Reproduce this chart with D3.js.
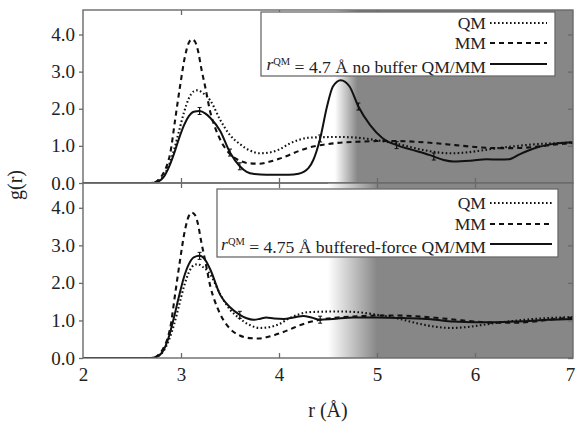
<!DOCTYPE html>
<html>
<head>
<meta charset="utf-8">
<script src="https://cdn.jsdelivr.net/npm/d3@7/dist/d3.min.js"></script>
<style>
  html, body { margin: 0; padding: 0; background: #fff; }
  svg { display: block; }
</style>
</head>
<body>
<svg id="chart" width="576" height="422"></svg>
<script>
// ---------- DATA ----------
const xTicks = [2, 3, 4, 5, 6, 7];
const yTicks = [0, 1, 2, 3, 4];

const mmR = [2.0, 2.65, 2.72, 2.76, 2.82, 2.86, 2.89, 2.94, 2.99, 3.04, 3.08, 3.11, 3.14, 3.17, 3.21, 3.25, 3.30, 3.35, 3.40, 3.50, 3.60, 3.70, 3.80, 3.90, 4.00, 4.10, 4.20, 4.30, 4.40, 4.50, 4.60, 4.80, 5.00, 5.20, 5.40, 5.60, 5.80, 6.00, 6.20, 6.40, 6.60, 6.80, 7.00];
const mmG = [0, 0, 0.0, 0.06, 0.26, 0.5, 0.8, 1.7, 2.6, 3.4, 3.78, 3.87, 3.82, 3.6, 3.05, 2.55, 1.9, 1.48, 1.17, 0.78, 0.6, 0.53, 0.52, 0.57, 0.65, 0.75, 0.86, 0.95, 1.01, 1.05, 1.08, 1.11, 1.13, 1.13, 1.11, 1.07, 1.02, 0.97, 0.94, 0.94, 0.97, 1.03, 1.08];

const qmR = [2.0, 2.68, 2.76, 2.82, 2.88, 2.93, 2.98, 3.03, 3.08, 3.13, 3.17, 3.22, 3.27, 3.30, 3.40, 3.50, 3.60, 3.70, 3.80, 3.90, 4.00, 4.10, 4.20, 4.30, 4.40, 4.60, 4.80, 5.00, 5.20, 5.40, 5.60, 5.75, 5.90, 6.05, 6.20, 6.40, 6.60, 6.80, 7.00];
const qmG = [0, 0, 0.04, 0.18, 0.5, 0.9, 1.4, 1.9, 2.28, 2.47, 2.5, 2.43, 2.32, 2.22, 1.70, 1.29, 1.05, 0.88, 0.80, 0.82, 0.90, 1.05, 1.16, 1.22, 1.23, 1.24, 1.22, 1.15, 1.06, 0.93, 0.83, 0.80, 0.82, 0.87, 0.93, 0.99, 1.04, 1.07, 1.09];

// r_QM = 4.7 A, no buffer
const nbR = [2.0, 2.7, 2.76, 2.82, 2.88, 2.93, 2.98, 3.03, 3.08, 3.13, 3.19, 3.25, 3.30, 3.40, 3.50, 3.60, 3.67, 3.75, 3.87, 4.00, 4.10, 4.20, 4.30, 4.35, 4.42, 4.49, 4.55, 4.63, 4.72, 4.81, 4.93, 5.06, 5.20, 5.35, 5.54, 5.68, 5.78, 5.95, 6.12, 6.25, 6.35, 6.46, 6.60, 6.73, 6.85, 7.00];
const nbG = [0, 0, 0.03, 0.15, 0.45, 0.8, 1.2, 1.55, 1.8, 1.92, 1.94, 1.87, 1.75, 1.4, 0.82, 0.45, 0.30, 0.24, 0.22, 0.22, 0.22, 0.25, 0.4, 0.62, 1.2, 2.06, 2.6, 2.77, 2.6, 2.06, 1.56, 1.2, 1.02, 0.9, 0.75, 0.62, 0.58, 0.6, 0.64, 0.63, 0.64, 0.78, 0.93, 1.02, 1.07, 1.1];

// r_QM = 4.75 A, buffered force
const bfR = [2.0, 2.7, 2.76, 2.82, 2.88, 2.93, 2.98, 3.03, 3.08, 3.13, 3.19, 3.25, 3.30, 3.40, 3.50, 3.60, 3.67, 3.74, 3.80, 3.87, 3.95, 4.05, 4.15, 4.25, 4.33, 4.42, 4.55, 4.76, 5.00, 5.30, 5.55, 5.78, 6.00, 6.12, 6.30, 6.50, 6.75, 7.00];
const bfG = [0, 0, 0.04, 0.2, 0.6, 1.1, 1.65, 2.15, 2.5, 2.68, 2.72, 2.6, 2.35, 1.68, 1.35, 1.15, 1.06, 1.02, 1.04, 1.08, 1.05, 1.04, 1.08, 1.12, 1.08, 1.02, 1.04, 1.08, 1.08, 1.06, 1.03, 0.97, 0.95, 0.95, 0.96, 0.98, 1.02, 1.04];

const nbErrR = [3.19, 3.5, 3.6, 4.42, 4.81, 5.2, 5.58];
const bfErrR = [3.19, 3.6, 4.42];

const panels = [
  { solidR: nbR, solidG: nbG, errR: nbErrR, shadeFrom: 4.57, shadeTo: 4.8,
    legendLabel: [" = 4.7 Å no buffer QM/MM"] },
  { solidR: bfR, solidG: bfG, errR: bfErrR, shadeFrom: 4.5, shadeTo: 5.0,
    legendLabel: [" = 4.75 Å buffered-force QM/MM"] }
];

// ---------- LAYOUT ----------
const FONT = '"Liberation Serif", "Times New Roman", Tinos, "DejaVu Serif", "Noto Serif", serif';
const svg = d3.select("#chart");
const L = 83, R = 573;
const panelBox = [{ top: 10, bottom: 183 }, { top: 183, bottom: 358 }];
const legendBox = [
  { x0: 261, x1: 555, y0: 12, y1: 76, rows: [23, 43, 64], textRight: 486, lx0: 490, lx1: 547 },
  { x0: 217, x1: 558, y0: 189, y1: 257, rows: [203, 224, 244], textRight: 486, lx0: 490, lx1: 552 }
];
const frameColor = "#6a6a6a";
const shadeColor = "#878787";
const txtColor = "#222";

const x = d3.scaleLinear().domain([2, 7]).range([L, R]);
const defs = svg.append("defs");

panels.forEach((p, i) => {
  const box = panelBox[i];
  const y = d3.scaleLinear().domain([0, 4.66]).range([box.bottom, box.top]);
  const g = svg.append("g");

  const gid = "shade" + i;
  const grad = defs.append("linearGradient").attr("id", gid)
    .attr("gradientUnits", "userSpaceOnUse")
    .attr("x1", x(p.shadeFrom)).attr("x2", x(p.shadeTo)).attr("y1", 0).attr("y2", 0);
  grad.append("stop").attr("offset", 0).attr("stop-color", "#ffffff");
  grad.append("stop").attr("offset", 1).attr("stop-color", shadeColor);
  g.append("rect")
    .attr("x", x(p.shadeFrom)).attr("y", box.top)
    .attr("width", x(7) - x(p.shadeFrom)).attr("height", box.bottom - box.top)
    .attr("fill", `url(#${gid})`);

  const cid = "clip" + i;
  defs.append("clipPath").attr("id", cid).append("rect")
    .attr("x", L).attr("y", box.top).attr("width", R - L).attr("height", box.bottom - box.top);

  const line = d3.line().x(d => x(d[0])).y(d => y(d[1])).curve(d3.curveMonotoneX);
  const curves = g.append("g").attr("clip-path", `url(#${cid})`);
  curves.append("path").datum(d3.zip(mmR, mmG)).attr("d", line)
    .attr("fill", "none").attr("stroke", "#111").attr("stroke-width", 2.1)
    .attr("stroke-dasharray", "5,4");
  curves.append("path").datum(d3.zip(qmR, qmG)).attr("d", line)
    .attr("fill", "none").attr("stroke", "#111").attr("stroke-width", 2.1)
    .attr("stroke-dasharray", "1.6,2.4");
  curves.append("path").datum(d3.zip(p.solidR, p.solidG)).attr("d", line)
    .attr("fill", "none").attr("stroke", "#111").attr("stroke-width", 2);

  const interp = r => {
    for (let k = 1; k < p.solidR.length; k++) {
      if (r <= p.solidR[k]) {
        const t = (r - p.solidR[k - 1]) / (p.solidR[k] - p.solidR[k - 1]);
        return p.solidG[k - 1] + t * (p.solidG[k] - p.solidG[k - 1]);
      }
    }
    return p.solidG[p.solidG.length - 1];
  };
  p.errR.forEach(r => {
    const cx = x(r), cy = y(interp(r));
    curves.append("line").attr("x1", cx).attr("x2", cx).attr("y1", cy - 3.5).attr("y2", cy + 3.5)
      .attr("stroke", "#111").attr("stroke-width", 1.2);
    [-3.5, 3.5].forEach(o => curves.append("line").attr("x1", cx - 2).attr("x2", cx + 2)
      .attr("y1", cy + o).attr("y2", cy + o).attr("stroke", "#111").attr("stroke-width", 1));
  });

  g.append("rect").attr("x", L).attr("y", box.top).attr("width", R - L).attr("height", box.bottom - box.top)
    .attr("fill", "none").attr("stroke", frameColor).attr("stroke-width", 1.4);

  const fmt = d3.format(".1f");
  const la = g.append("g").attr("transform", `translate(${L},0)`)
    .call(d3.axisLeft(y).tickValues(yTicks).tickSize(4).tickPadding(4).tickFormat(fmt));
  const ra = g.append("g").attr("transform", `translate(${R},0)`)
    .call(d3.axisLeft(y).tickValues(yTicks).tickSize(5).tickFormat(""));
  const ba = g.append("g").attr("transform", `translate(0,${box.bottom})`)
    .call(d3.axisTop(x).tickValues(xTicks.slice(1, -1)).tickSize(5).tickFormat(""));
  const ta = g.append("g").attr("transform", `translate(0,${box.top})`)
    .call(d3.axisBottom(x).tickValues(xTicks.slice(1, -1)).tickSize(5).tickFormat(""));
  [la, ra, ba, ta].forEach(a => {
    a.attr("font-family", FONT);
    a.select(".domain").remove();
    a.selectAll(".tick line").attr("stroke", frameColor).attr("stroke-width", 1.3);
  });
  la.attr("font-size", 19).selectAll(".tick text").attr("fill", txtColor);

  if (i === 1) {
    const xl = g.append("g").attr("transform", `translate(0,${box.bottom})`)
      .call(d3.axisBottom(x).tickValues(xTicks).tickSize(0).tickPadding(10).tickFormat(d3.format("d")));
    xl.attr("font-family", FONT).attr("font-size", 19);
    xl.select(".domain").remove();
    xl.selectAll(".tick text").attr("fill", txtColor)
      .attr("dx", d => d === 7 ? -3 : 0);
  }

  const lb = legendBox[i];
  const leg = g.append("g").attr("font-family", FONT).attr("font-size", 17.6).attr("fill", txtColor);
  leg.append("rect").attr("x", lb.x0).attr("y", lb.y0).attr("width", lb.x1 - lb.x0).attr("height", lb.y1 - lb.y0)
    .attr("fill", "#fff").attr("stroke", frameColor).attr("stroke-width", 1.3);
  const labels = ["QM", "MM"];
  const dashes = ["1.6,2.4", "5,4"];
  labels.forEach((t, k) => {
    leg.append("text").attr("x", lb.textRight).attr("y", lb.rows[k]).attr("dy", "0.35em")
      .attr("text-anchor", "end").text(t);
    leg.append("line").attr("x1", lb.lx0).attr("x2", lb.lx1).attr("y1", lb.rows[k]).attr("y2", lb.rows[k])
      .attr("stroke", "#111").attr("stroke-width", 2).attr("stroke-dasharray", dashes[k]);
  });
  const t3 = leg.append("text").attr("x", lb.textRight).attr("y", lb.rows[2]).attr("dy", "0.35em")
    .attr("text-anchor", "end");
  t3.append("tspan").attr("font-style", "italic").text("r");
  t3.append("tspan").attr("dy", "-0.45em").attr("font-size", 10.5).text("QM");
  t3.append("tspan").attr("dy", "0.45em").text(p.legendLabel[0]);
  leg.append("line").attr("x1", lb.lx0).attr("x2", lb.lx1).attr("y1", lb.rows[2]).attr("y2", lb.rows[2])
    .attr("stroke", "#111").attr("stroke-width", 2);
});

svg.append("text").attr("x", 328).attr("y", 410).attr("dy", "0.35em").attr("text-anchor", "middle")
  .attr("font-family", FONT).attr("font-size", 20).attr("fill", txtColor).text("r (Å)");
svg.append("text").attr("transform", "translate(15,185) rotate(-90)").attr("dy", "0.35em")
  .attr("text-anchor", "middle").attr("font-family", FONT).attr("font-size", 20).attr("fill", txtColor).text("g(r)");
</script>
</body>
</html>
